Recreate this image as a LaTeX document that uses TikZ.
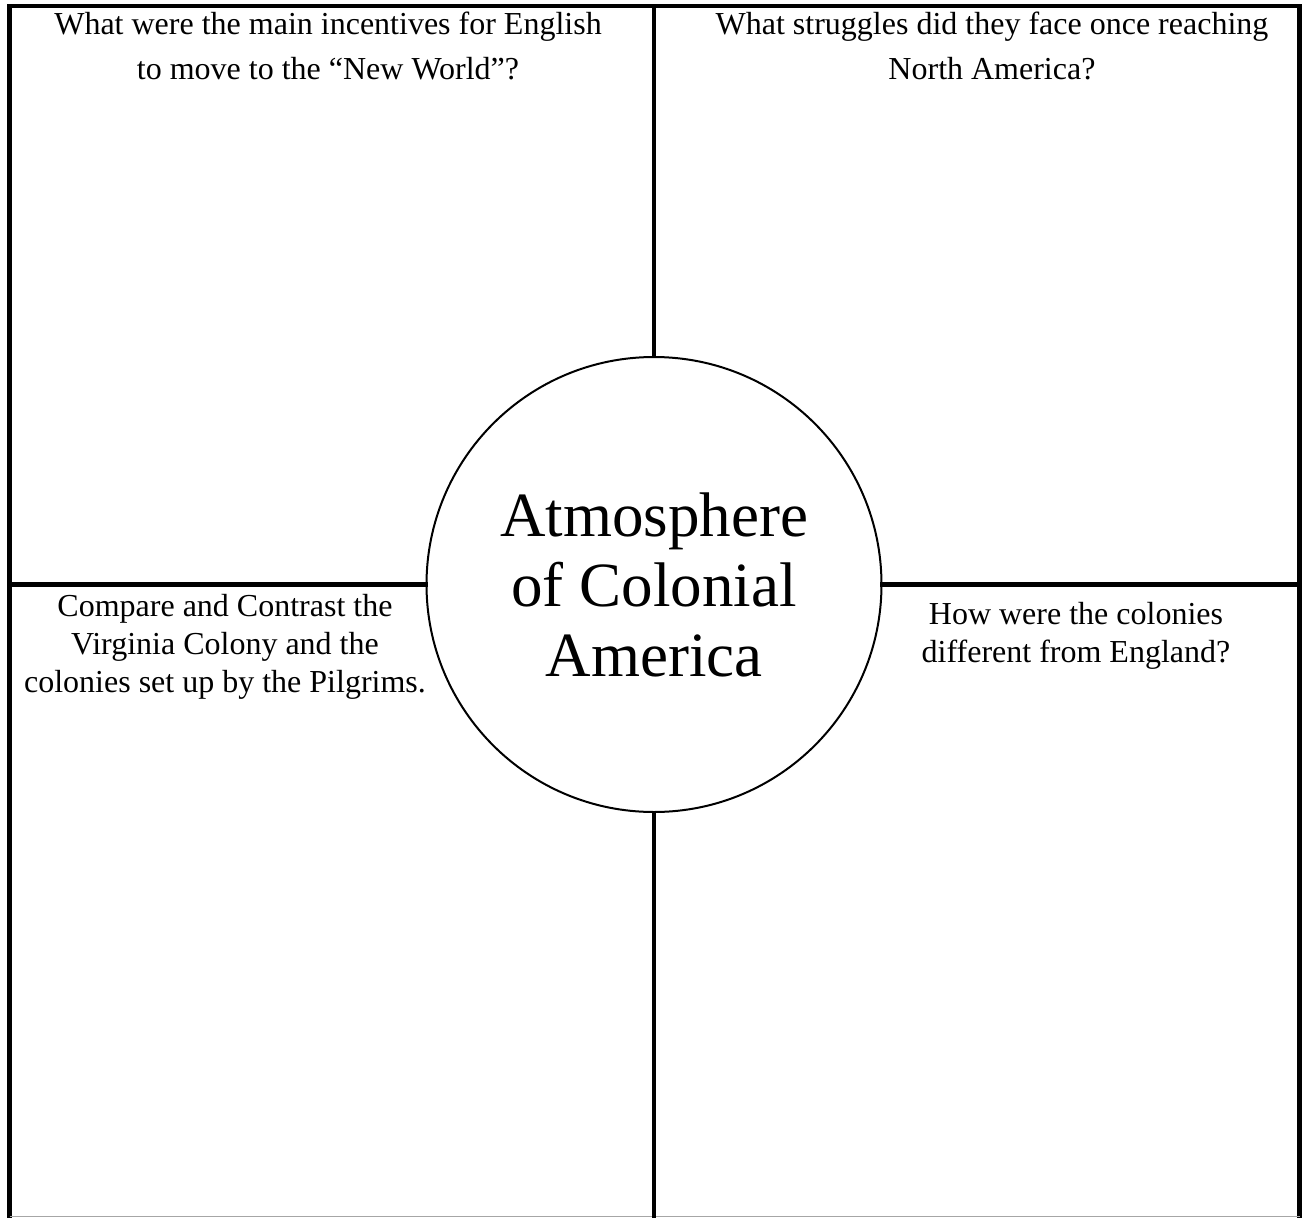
\documentclass[tikz,border=0pt]{standalone}
\usepackage{fontspec}
\setmainfont{Liberation Serif}
\usepackage{tikz}
\usetikzlibrary{positioning,calc}

\begin{document}
\begin{tikzpicture}[
  x=1pt, y=-1pt,
  rule/.style={line width=4.5pt, line cap=rect},
  hub/.style={draw, circle, line width=2pt, minimum size=455pt, inner sep=0pt,
    align=center, font=\fontsize{63}{70}\selectfont},
  ask/.style={align=center, inner sep=0pt, font=\fontsize{32}{45}\selectfont},
  asktight/.style={ask, font=\fontsize{32}{38}\selectfont}
]
\useasboundingbox (0,0) rectangle (1302,1218);
\fill[white] (0,0) rectangle (1302,1218);

% outer frame
\coordinate (tl) at (9.5,6);
\coordinate (br) at (1299.5,1216.5);
\draw[rule] (tl |- br) -- (tl) -- (tl -| br) -- (br);
\draw[gray!70, line width=1.2pt] (tl |- br) -- (br);

% centre circle
\node[hub] (hub) at (654,584.5) {Atmosphere\\of Colonial\\America};

\draw[rule] (hub.north) -- (hub.north |- tl);
\draw[rule] (hub.south) -- (hub.south |- br);
\draw[rule] (hub.west) -- (hub.west -| tl);
\draw[rule] (hub.east) -- (hub.east -| br);

% the four questions
\node[ask] (incentives) at (328,46) {What were the main incentives for English\\to move to the ``New World''?};
\node[ask] (struggles) at (992,46) {What struggles did they face once reaching\\North America?};
\node[asktight] (compare) at (225,646.5) {Compare and Contrast the\\Virginia Colony and the\\colonies set up by the Pilgrims.};
\node[asktight] (england) at (1076,635.5) {How were the colonies\\different from England?};
\end{tikzpicture}
\end{document}
